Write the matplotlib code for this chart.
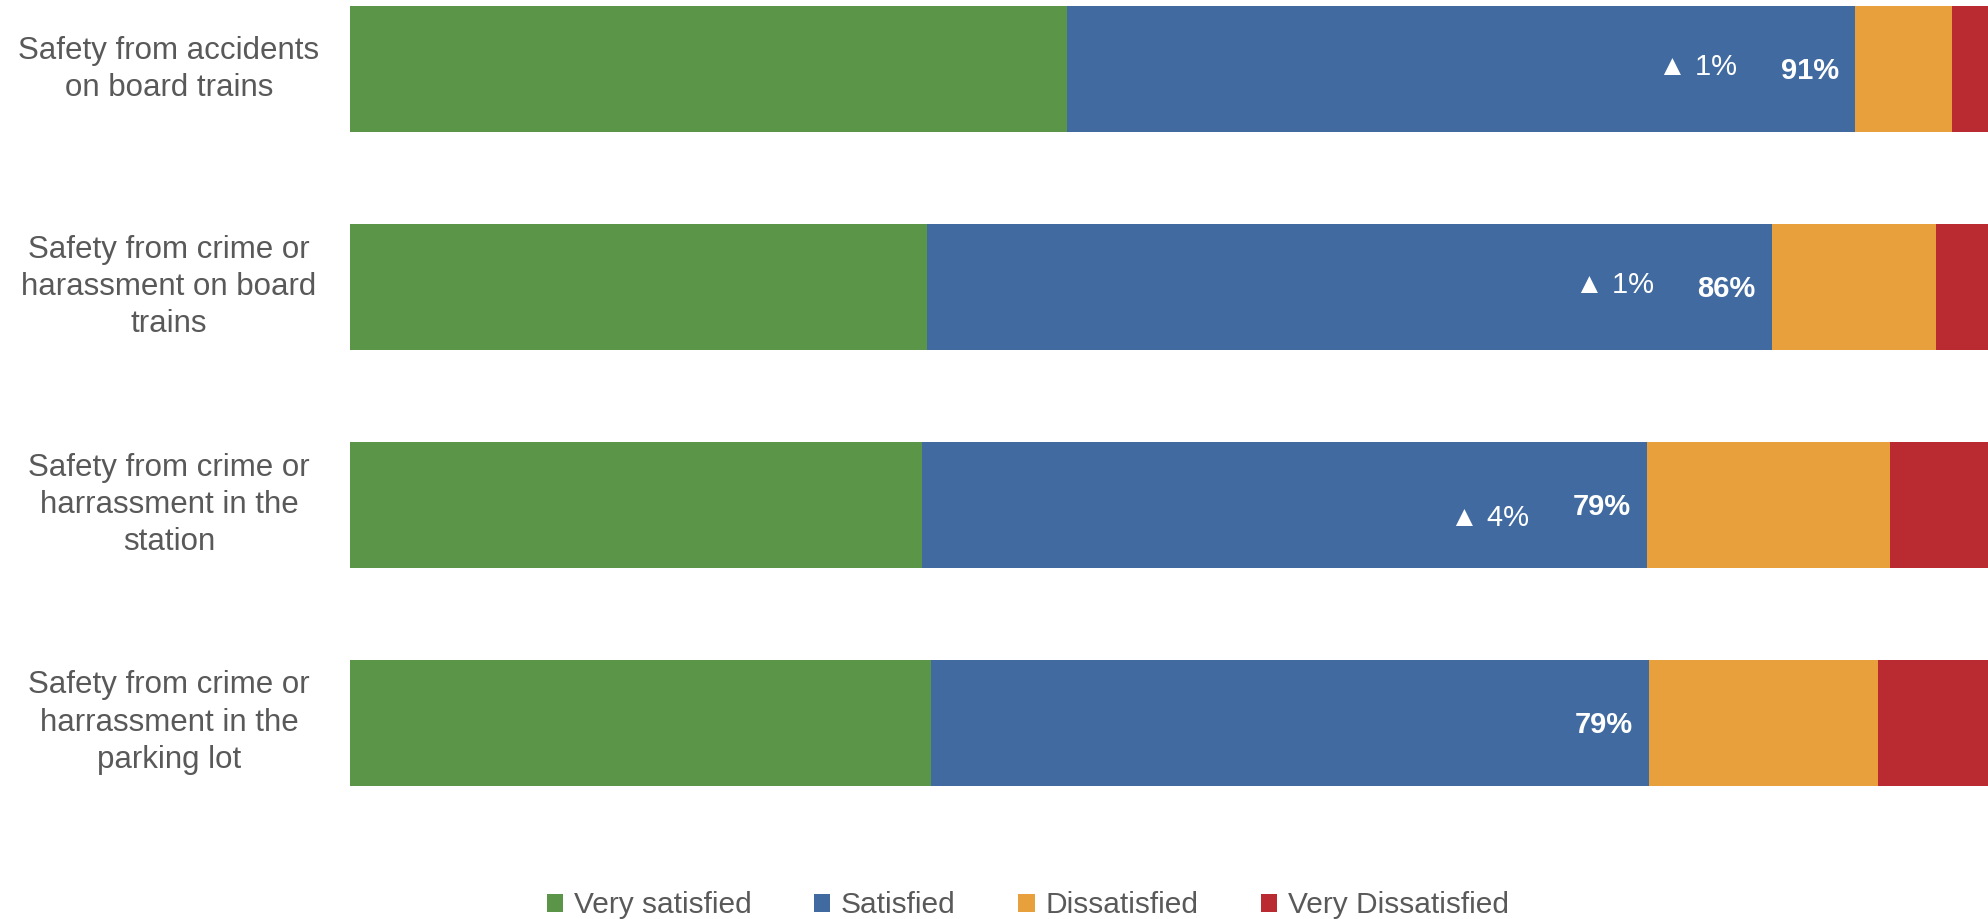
import matplotlib
matplotlib.use('Agg')
import numpy as np
import matplotlib.pyplot as plt
from matplotlib.patches import Patch

plt.rcParams['font.family'] = ['Liberation Sans', 'DejaVu Sans']

# data (percent of respondents)
categories = [
    "Safety from accidents\non board trains",
    "Safety from crime or\nharassment on board\ntrains",
    "Safety from crime or\nharrassment in the\nstation",
    "Safety from crime or\nharrassment in the\nparking lot",
]
series_names = ["Very satisfied", "Satisfied", "Dissatisfied", "Very Dissatisfied"]
very_satisfied = [43.8, 35.2, 34.9, 35.5]
satisfied = [48.1, 51.6, 44.3, 43.8]
dissatisfied = [5.9, 10.0, 14.8, 14.0]
very_dissatisfied = [2.2, 3.2, 6.0, 6.7]
total_labels = ["91%", "86%", "79%", "79%"]
change_labels = ["\u25B2 1%", "\u25B2 1%", "\u25B2 4%", ""]

colors = ["#5B9648", "#416BA0", "#E7A03C", "#BA2B31"]
text_gray = "#595959"

fig = plt.figure(figsize=(19.88, 9.19), dpi=100)
ax = fig.add_axes([350 / 1988, 1 - 786 / 919, 1 - 350 / 1988, 780 / 919])

y = np.arange(len(categories))
left = np.zeros(len(categories))
for vals, col in zip([very_satisfied, satisfied, dissatisfied, very_dissatisfied], colors):
    ax.barh(y, vals, left=left, height=0.58, color=col, edgecolor='none')
    left += np.array(vals)

ax.set_xlim(0, 100)
ax.set_ylim(3.29, -0.29)
ax.axis('off')

# labels inside the blue segment
for i in range(len(categories)):
    end_blue = very_satisfied[i] + satisfied[i]
    ax.text(end_blue - 1.0, i + 0.01, total_labels[i], color='white', fontsize=21,
            fontweight='bold', ha='right', va='center')
    if change_labels[i]:
        dy = 0.06 if i == 2 else -0.01
        ax.text(end_blue - 7.2, i + dy, change_labels[i], color='white', fontsize=21,
                ha='right', va='center')

# category labels on the left, centred
for i, cat in enumerate(categories):
    ax.text(-181 / 1638 * 100, i, cat, color=text_gray, fontsize=22.5,
            ha='center', va='center', multialignment='center', linespacing=1.32)

handles = [Patch(facecolor=c, edgecolor='none') for c in colors]
fig.legend(handles, series_names, loc='center', bbox_to_anchor=(0.517, 0.015),
           ncol=4, frameon=False, fontsize=21.5, labelcolor=text_gray,
           handlelength=0.55, handleheight=0.55, handletextpad=0.35,
           columnspacing=2.1)

fig.savefig('out.png', dpi=100)
